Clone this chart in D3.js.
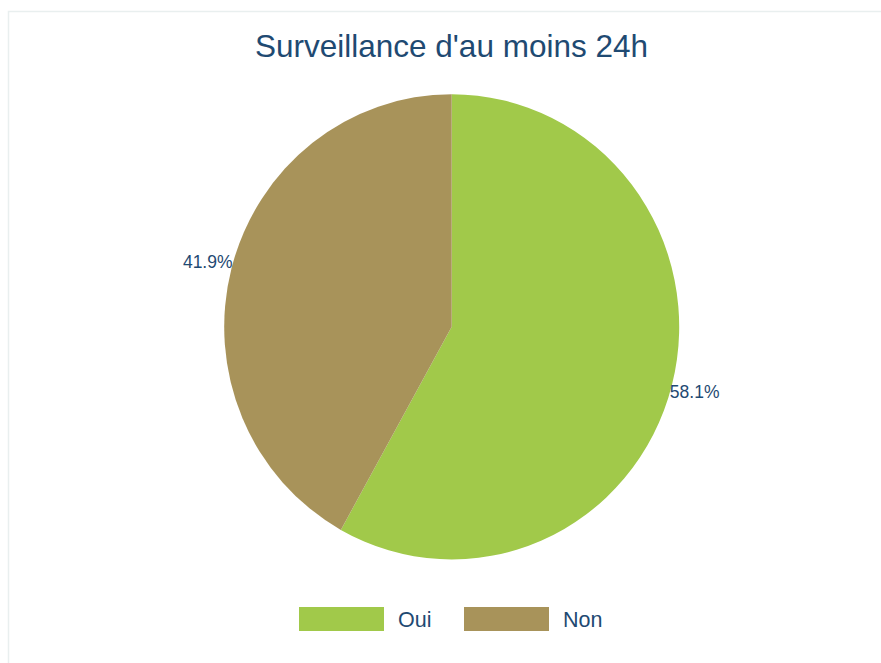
<!DOCTYPE html>
<html>
<head>
<meta charset="utf-8">
<script src="https://cdn.jsdelivr.net/npm/d3@7"></script>
<style>
  html, body { margin: 0; padding: 0; background: #ffffff; }
  svg { display: block; font-family: "Liberation Sans", Arial, sans-serif; }
</style>
</head>
<body>
<svg id="chart" width="881" height="663"></svg>
<script>
// chart data
var categories = ['Oui', 'Non'];
var percents = [58.1, 41.9];
var colors = ['#a1c94a', '#a8935a'];

var chart_title = "Surveillance d'au moins 24h";
var text_color = '#1f4a72';

var svg = d3.select('#chart');

// light frame round the chart area
svg.append('rect')
  .attr('x', 8.5).attr('y', 11.5)
  .attr('width', 900).attr('height', 700)
  .attr('fill', '#ffffff')
  .attr('stroke', '#e9efef')
  .attr('stroke-width', 1.5);

svg.append('text')
  .attr('x', 451.5).attr('y', 57)
  .attr('text-anchor', 'middle')
  .attr('fill', text_color)
  .style('font-size', '31.5px')
  .text(chart_title);

// pie (slightly taller than wide, as in the original)
var cx = 451.7, cy = 326.8;
var radius = 227.5;
var y_stretch = 232.6 / 227.5;

var rows = categories.map(function (c, i) {
  return { 'label': c, 'value': percents[i], 'color': colors[i] };
});

var pie = d3.pie().sort(null).value(function (d) { return d.value; });
var arc = d3.arc().innerRadius(0).outerRadius(radius);
var arcs = pie(rows);

var pie_g = svg.append('g')
  .attr('transform', 'translate(' + cx + ',' + cy + ') scale(1,' + y_stretch + ')');

pie_g.selectAll('path')
  .data(arcs)
  .enter()
  .append('path')
  .attr('d', arc)
  .attr('fill', function (d) { return d.data.color; });

// percent labels just outside the rim
var label_g = svg.append('g').attr('transform', 'translate(' + cx + ',' + cy + ')');
label_g.selectAll('text')
  .data(arcs)
  .enter()
  .append('text')
  .each(function (d) {
    var mid = (d.startAngle + d.endAngle) / 2;
    var x = Math.sin(mid) * radius;
    var y = -Math.cos(mid) * radius * y_stretch;
    d3.select(this)
      .attr('x', x + (x > 0 ? -2 : 1))
      .attr('y', y)
      .attr('dy', y > 0 ? '0.75em' : '0em')
      .attr('text-anchor', x > 0 ? 'start' : 'end');
  })
  .attr('fill', text_color)
  .style('font-size', '17.5px')
  .text(function (d) { return d.data.value.toFixed(1) + '%'; });

// legend
var legend_x = [299, 464];
var legend = svg.append('g');
var items = legend.selectAll('g')
  .data(rows)
  .enter()
  .append('g')
  .attr('transform', function (d, i) { return 'translate(' + legend_x[i] + ',607)'; });

items.append('rect')
  .attr('width', 85).attr('height', 24)
  .attr('fill', function (d) { return d.color; });

items.append('text')
  .attr('x', 99).attr('y', 20)
  .attr('fill', text_color)
  .style('font-size', '21.5px')
  .text(function (d) { return d.label; });
</script>
</body>
</html>
